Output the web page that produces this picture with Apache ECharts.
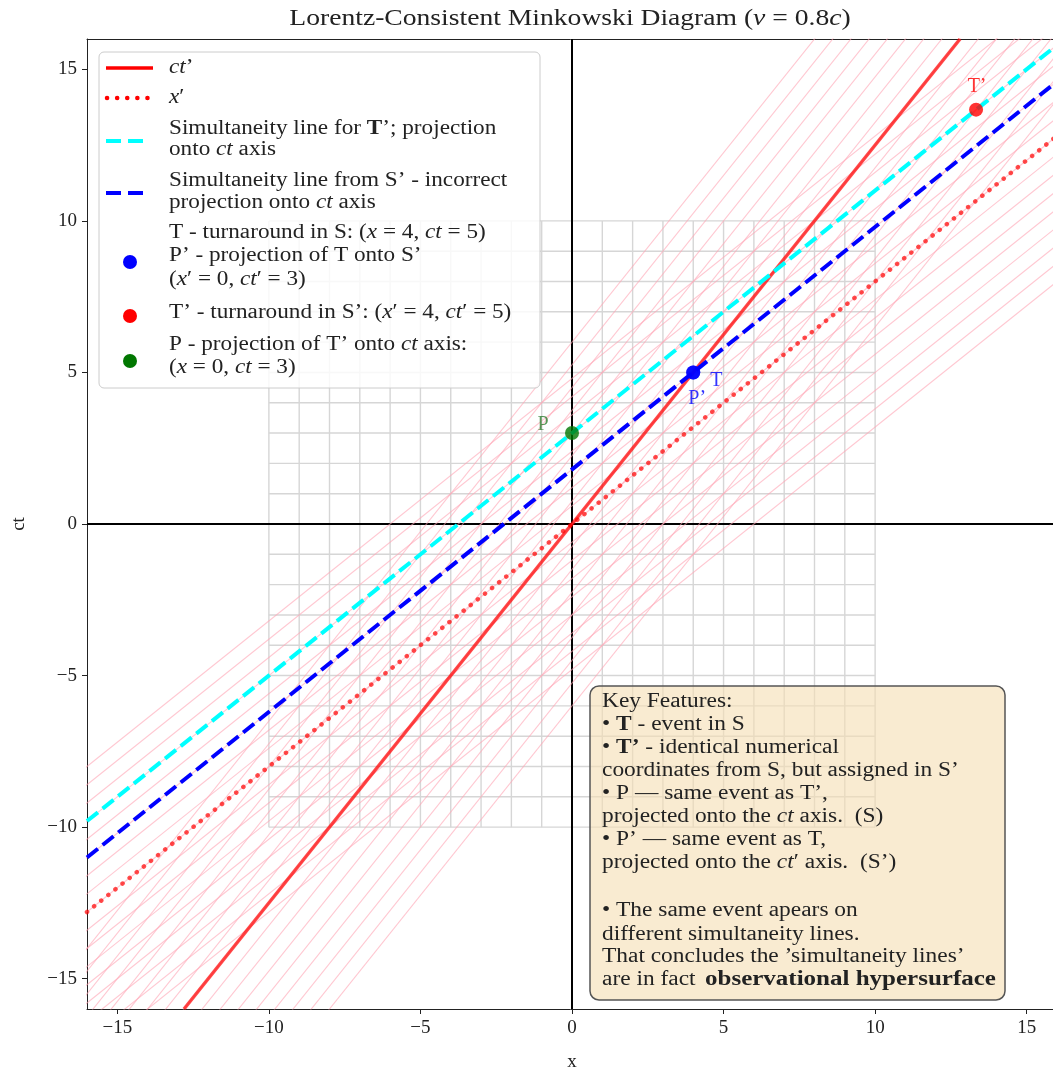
<!DOCTYPE html>
<html><head><meta charset="utf-8">
<script src="https://cdn.jsdelivr.net/npm/echarts@6.0.0/dist/echarts.min.js"></script>
<style>html,body{margin:0;padding:0;background:#fff}#c{width:1053px;height:1070px}</style>
</head><body><div id="c"></div>
<script>
// ---------------- data ----------------
const velocity = 0.8;                       // v = 0.8c
const axisMin = -16, axisMax = 16;
const tickValues = [-15, -10, -5, 0, 5, 10, 15];
const sGridValues = [-10,-9,-8,-7,-6,-5,-4,-3,-2,-1,0,1,2,3,4,5,6,7,8,9,10];
const sPrimeLevels = [-8,-7,-6,-5,-4,-3,-2,-1,0,1,2,3,4,5,6,7,8];
const ctPrimeAxisEnds = [[-12.8, -16], [12.8, 16]];
const xPrimeAxisEnds  = [[-16, -12.8], [16, 12.8]];
const simulTprimeEnds = [[-16, -9.8], [16, 15.8]];
const simulSprimeEnds = [[-16, -11.0], [16, 14.6]];
const zeroHorizontal = [[-16, 0], [16, 0]];
const zeroVertical   = [[0, -16], [0, 16]];
const eventT      = [4, 5];
const eventP      = [0, 3];
const eventTprime = [13.33, 13.67];

// ---------------- helpers ----------------
const gamma = 1 / Math.sqrt(1 - velocity * velocity);
const SERIF = "'Liberation Serif', 'DejaVu Serif', serif";
function lineSeries(data, lineStyle, z) {
  return { type: 'line', data: data, symbol: 'none', showSymbol: false, silent: true,
           animation: false, clip: true, lineStyle: lineStyle, z: z, xAxisIndex: 0, yAxisIndex: 0 };
}
const series = [];
// S grid (gray)
sGridValues.forEach(v => {
  series.push(lineSeries([[v, -10], [v, 10]], { color: '#d6d6d6', width: 1.4 }, 1));
  series.push(lineSeries([[-10, v], [10, v]], { color: '#d6d6d6', width: 1.4 }, 1));
});
// zero axes
series.push(lineSeries(zeroHorizontal, { color: '#000', width: 2 }, 2));
series.push(lineSeries(zeroVertical, { color: '#000', width: 2 }, 2));
// S' grid (pink): lines of constant ct' and constant x'
const far = 40;
const pinkStyle = { color: 'rgba(255,165,180,0.62)', width: 1.1 };
sPrimeLevels.forEach(L => {
  const off = L / gamma;
  series.push(lineSeries([[-far, velocity * -far + off], [far, velocity * far + off]], pinkStyle, 3));
  series.push(lineSeries([[velocity * -far + off, -far], [velocity * far + off, far]], pinkStyle, 3));
});
// main lines
series.push(lineSeries(ctPrimeAxisEnds, { color: 'rgba(255,0,0,0.72)', width: 3.5 }, 5));
series.push(lineSeries(xPrimeAxisEnds, { color: 'rgba(255,0,0,0.7)', width: 4.5, type: [0.1, 9], cap: 'round' }, 5));
series.push(lineSeries(simulTprimeEnds, { color: '#00ffff', width: 4, type: [14, 6] }, 6));
series.push(lineSeries(simulSprimeEnds, { color: '#0000ff', width: 4, type: [14, 6] }, 6));

function pointSeries(pt, color, labelText, offset, labelColor) {
  return { type: 'scatter', data: [pt], symbol: 'circle', symbolSize: 14, silent: true, animation: false,
    itemStyle: { color: color }, z: 8,
    label: { show: !!labelText, formatter: labelText || '', position: 'inside', offset: offset,
      color: labelColor || color, fontFamily: SERIF, fontSize: 20 } };
}
series.push(pointSeries(eventT, '#0000ff', 'T', [23, 8]));
series.push(pointSeries(eventT, '#0000ff', "P’", [4, 26]));
series.push(pointSeries(eventTprime, '#ff0000', "T’", [1, -23]));
series.push(pointSeries(eventP, '#007700', 'P', [-29, -8], '#2e7d2e'));

// ---------------- graphic text (title, legend, key box) ----------------
function rich(size) {
  return {
    i: { fontFamily: SERIF, fontSize: size, fontStyle: 'italic', fill: '#222' },
    b: { fontFamily: SERIF, fontSize: size, fontWeight: 'bold', fill: '#222' },
    n: { fontFamily: SERIF, fontSize: size, fill: '#222' }
  };
}
function txt(x, y, text, size, sx) {
  return { type: 'text', x: x, y: y, z: 100, silent: true, scaleX: sx || 1, originX: 0, originY: 0,
    style: { text: text, fontFamily: SERIF, fontSize: size, fill: '#222',
             verticalAlign: 'middle', align: 'left', rich: rich(size) } };
}
const g = [];
// title
g.push({ type: 'text', x: 570, y: 19, z: 100, silent: true, scaleX: 1.15, originX: 0, originY: 0,
  style: { text: 'Lorentz-Consistent Minkowski Diagram ({i|v} = 0.8{i|c})', fontFamily: SERIF, fontSize: 24,
           fill: '#222', align: 'center', verticalAlign: 'middle', rich: rich(24) } });

// legend box
g.push({ type: 'rect', z: 90, silent: true, shape: { x: 99, y: 52, width: 441, height: 336, r: 5 },
  style: { fill: 'rgba(255,255,255,0.82)', stroke: '#cccccc', lineWidth: 1 } });
const LX = 169, LS = 20, LSX = 1.16;
g.push({ type: 'line', z: 95, silent: true, shape: { x1: 106, y1: 68, x2: 153, y2: 68 }, style: { stroke: '#ff0000', lineWidth: 3.5 } });
g.push(txt(LX, 68, '{i|ct}’', LS, LSX));
g.push({ type: 'line', z: 95, silent: true, shape: { x1: 107, y1: 98, x2: 150, y2: 98 }, style: { stroke: '#ff0000', lineWidth: 4.5, lineDash: [0.1, 10], lineCap: 'round' } });
g.push(txt(LX, 98, '{i|x}′', LS, LSX));
g.push({ type: 'line', z: 95, silent: true, shape: { x1: 106, y1: 141, x2: 150, y2: 141 }, style: { stroke: '#00ffff', lineWidth: 4, lineDash: [15, 7] } });
g.push(txt(LX, 129, 'Simultaneity line for {b|T}’; projection', LS, LSX));
g.push(txt(LX, 150, 'onto {i|ct} axis', LS, LSX));
g.push({ type: 'line', z: 95, silent: true, shape: { x1: 106, y1: 193, x2: 150, y2: 193 }, style: { stroke: '#0000ff', lineWidth: 4, lineDash: [15, 7] } });
g.push(txt(LX, 181, 'Simultaneity line from S’ - incorrect', LS, LSX));
g.push(txt(LX, 203, 'projection onto {i|ct} axis', LS, LSX));
g.push(txt(LX, 233, 'T - turnaround in S: ({i|x} = 4, {i|ct} = 5)', LS, LSX));
g.push({ type: 'circle', z: 95, silent: true, shape: { cx: 130, cy: 262, r: 7 }, style: { fill: '#0000ff' } });
g.push(txt(LX, 256, 'P’ - projection of T onto S’', LS, LSX));
g.push(txt(LX, 280, '({i|x}′ = 0, {i|ct}′ = 3)', LS, LSX));
g.push({ type: 'circle', z: 95, silent: true, shape: { cx: 130, cy: 316, r: 7 }, style: { fill: '#ff0000' } });
g.push(txt(LX, 313, 'T’ - turnaround in S’: ({i|x}′ = 4, {i|ct}′ = 5)', LS, LSX));
g.push({ type: 'circle', z: 95, silent: true, shape: { cx: 130, cy: 361, r: 7 }, style: { fill: '#007700' } });
g.push(txt(LX, 345, 'P - projection of T’ onto {i|ct} axis:', LS, LSX));
g.push(txt(LX, 368, '({i|x} = 0, {i|ct} = 3)', LS, LSX));

// key features box
g.push({ type: 'rect', z: 90, silent: true, shape: { x: 590, y: 686, width: 415, height: 314, r: 9 },
  style: { fill: 'rgba(245,222,179,0.6)', stroke: '#555555', lineWidth: 1.5 } });
const KX = 602, KS = 20, KSX = 1.17;
const keyLines = [
  [702, 'Key Features:'],
  [725, '• {b|T} - event in S'],
  [748, '• {b|T’} - identical numerical'],
  [771, 'coordinates from S, but assigned in S’'],
  [794, '• P — same event as T’,'],
  [817, 'projected onto the {i|ct} axis.  (S)'],
  [840, '• P’ — same event as T,'],
  [863, 'projected onto the {i|ct}′ axis.  (S’)'],
  [911, '• The same event apears on'],
  [935, 'different simultaneity lines.'],
  [957, 'That concludes the ’simultaneity lines’']
];
keyLines.forEach(k => g.push(txt(KX, k[0], k[1], KS, KSX)));
g.push(txt(KX, 980, 'are in fact', KS, KSX));
g.push(txt(705, 980, '{b|observational hypersurface}', KS, 1.25));

// ---------------- chart ----------------
const chart = echarts.init(document.getElementById('c'), null, { renderer: 'canvas' });
const axisCommon = {
  type: 'value', min: axisMin, max: axisMax,
  splitLine: { show: false },
  axisLine: { show: true, onZero: false, lineStyle: { color: '#222', width: 1 } },
  axisTick: { show: true, inside: false, length: 5, lineStyle: { color: '#222' }, customValues: tickValues },
  axisLabel: { show: true, customValues: tickValues, fontFamily: SERIF, fontSize: 19, color: '#222', margin: 10,
    formatter: v => (v < 0 ? '−' + Math.abs(v) : String(v)) },
  nameTextStyle: { fontFamily: SERIF, fontSize: 19, color: '#222' }
};
chart.setOption({
  backgroundColor: '#fff',
  animation: false,
  grid: { left: 87, top: 39, width: 970, height: 970, containLabel: false, outerBoundsMode: 'none' },
  xAxis: [
    Object.assign({}, axisCommon, { position: 'bottom', name: 'x', nameLocation: 'middle', nameGap: 44 }),
    { type: 'value', min: axisMin, max: axisMax, position: 'top', axisLine: { show: true, onZero: false, lineStyle: { color: '#222' } },
      axisTick: { show: false }, axisLabel: { show: false }, splitLine: { show: false } }
  ],
  yAxis: [
    Object.assign({}, axisCommon, { position: 'left', name: 'ct', nameLocation: 'middle', nameGap: 58, nameRotate: 90 })
  ],
  series: series,
  graphic: g
});
</script></body></html>
